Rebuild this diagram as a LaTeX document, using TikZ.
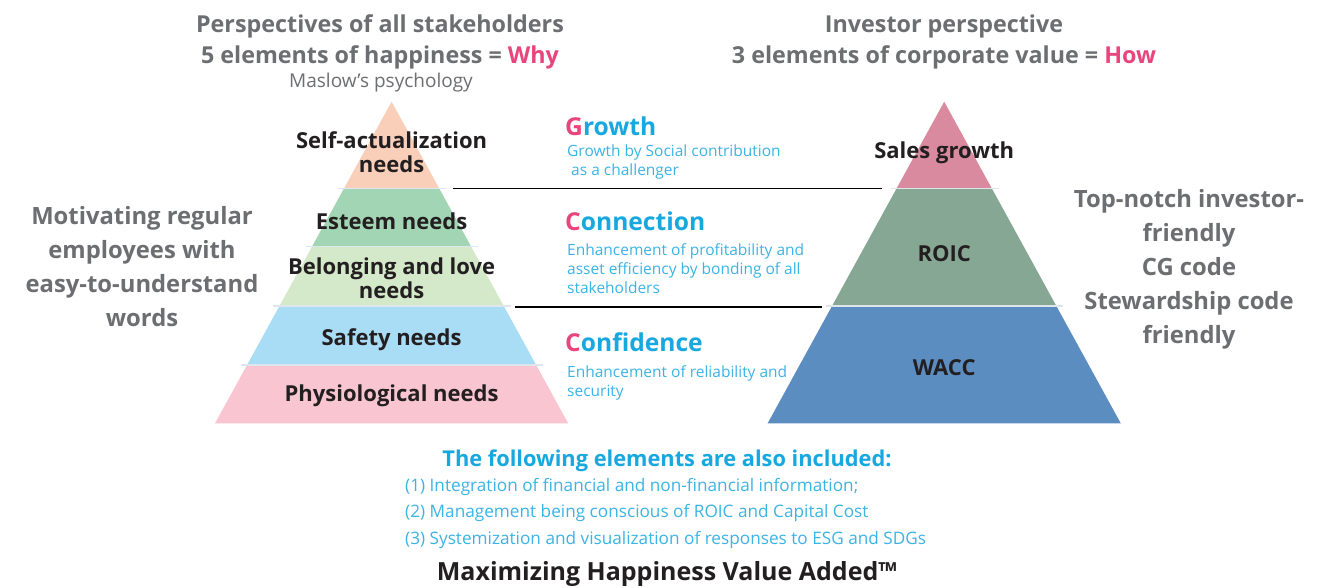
\documentclass[tikz,border=0pt]{standalone}
\usepackage{fontspec}
\setmainfont{Open Sans}
\definecolor{graytxt}{HTML}{6D6E71}
\definecolor{pinktxt}{HTML}{E8457C}
\definecolor{cyanhd}{HTML}{18A8E0}
\definecolor{cyansub}{HTML}{3BB4E5}
\definecolor{darktxt}{HTML}{231F20}
\definecolor{bself}{HTML}{F9CFB9}
\definecolor{besteem}{HTML}{A2D5B3}
\definecolor{bbelong}{HTML}{D4E9C9}
\definecolor{bsafety}{HTML}{A9DDF6}
\definecolor{bphysio}{HTML}{F8C5D0}
\definecolor{bsales}{HTML}{DA8A9F}
\definecolor{broic}{HTML}{86A793}
\definecolor{bwacc}{HTML}{5B8DC1}
\definecolor{sepline}{HTML}{DCE6EC}
\newcommand\pyrband[4]{\fill[#4] ({#1-0.549*(#2-101.7)},#2) -- ({#1+0.549*(#2-101.7)},#2) -- ({#1+0.549*(#3-101.7)},#3) -- ({#1-0.549*(#3-101.7)},#3) -- cycle;}
\newcommand\pyrsep[2]{\draw[sepline,line width=1.5pt] ({#1-0.549*(#2-101.7)-6},#2) -- ({#1+0.549*(#2-101.7)+7},#2);}
\begin{document}
\begin{tikzpicture}[x=1pt,y=-1pt,
  title/.style={text=graytxt,font=\fontsize{23.3}{25}\selectfont\bfseries,inner sep=0pt,anchor=center},
  side/.style={text=graytxt,font=\fontsize{23.8}{34}\selectfont\bfseries,inner sep=0pt,align=center},
  lvl/.style={text=darktxt,font=\fontsize{22}{24}\selectfont\bfseries,inner sep=0pt,align=center},
  cword/.style={text=cyanhd,font=\fontsize{24.6}{28}\selectfont\bfseries,inner sep=0pt,anchor=west},
  csub/.style={text=cyansub,font=\fontsize{15.5}{19}\selectfont,inner sep=0pt,anchor=north west,align=left},
  item/.style={text=cyansub,font=\fontsize{17.2}{20}\selectfont,inner sep=0pt,anchor=west},
  conn/.style={draw=black,line width=1.6pt}]
\useasboundingbox[fill=white] (0,0) rectangle (1342,587);
% left pyramid
\pyrband{391.6}{101.7}{188.3}{bself}
\pyrband{391.6}{188.3}{246.7}{besteem}
\pyrband{391.6}{246.7}{306}{bbelong}
\pyrband{391.6}{306}{365}{bsafety}
\pyrband{391.6}{365}{423.3}{bphysio}
\pyrsep{391.6}{188.3}
\pyrsep{391.6}{246.7}
\pyrsep{391.6}{306}
\pyrsep{391.6}{365}
% right pyramid
\pyrband{944.2}{101.7}{188.3}{bsales}
\pyrband{944.2}{188.3}{306}{broic}
\pyrband{944.2}{306}{423.3}{bwacc}
\pyrsep{944.2}{188.3}
\pyrsep{944.2}{306}
% titles
\node[title] (t1) at (380,26) {Perspectives of all stakeholders};
\node[title] (t2) at (380,57) {5 elements of happiness = \textcolor{pinktxt}{Why}};
\node[text=graytxt,font=\fontsize{19}{20}\selectfont,inner sep=0pt] (t3) at (381,82.5) {Maslow's psychology};
\node[title] (t4) at (944,26) {Investor perspective};
\node[title] (t5) at (944,57) {3 elements of corporate value = \textcolor{pinktxt}{How}};
% side texts
\node[side] (sl) at (142,267) {Motivating regular\\employees with\\easy-to-understand\\words};
\node[side] (sr) at (1189,269) {Top-notch investor-\\friendly\\CG code\\Stewardship code\\friendly};
% level labels
\node[lvl] (p5) at (391.6,152) {Self-actualization\\needs};
\node[lvl] (p4) at (391.6,221) {Esteem needs};
\node[lvl] (p3) at (391.6,278) {Belonging and love\\needs};
\node[lvl] (p2) at (391.6,339.5) {Safety needs};
\node[lvl] (p1) at (391.6,395.5) {Physiological needs};
\node[lvl] (q3) at (944.2,152.5) {Sales growth};
\node[lvl] (q2) at (944.2,254) {ROIC};
\node[lvl] (q1) at (944.2,368) {WACC};
% middle
\node[cword] (g) at (565,126.5) {\textcolor{pinktxt}{G}rowth};
\node[csub] (gs) at (567,145) {Growth by Social contribution\\\ as a challenger};
\node[cword] (c1) at (565,221.5) {\textcolor{pinktxt}{C}onnection};
\node[csub] (cs1) at (567,243) {Enhancement of profitability and\\asset efficiency by bonding of all\\stakeholders};
\node[cword] (c2) at (565,342.5) {\textcolor{pinktxt}{C}onfidence};
\node[csub] (cs2) at (567,365.5) {Enhancement of reliability and\\security};
% connectors
\coordinate (l1a) at (453,188.5);
\coordinate (l1b) at (882,188.5);
\coordinate (l2a) at (515,306.7);
\coordinate (l2b) at (821.7,306.7);
\draw[conn] (l1a) -- (l1b);
\draw[conn] (l2a) -- (l2b);
% bottom
\node[text=cyanhd,font=\fontsize{21.8}{24}\selectfont\bfseries,inner sep=0pt] (fh) at (667,460.5) {The following elements are also included:};
\node[item] (i1) at (405,487) {(1) Integration of financial and non-financial information;};
\node[item] (i2) at (405,513) {(2) Management being conscious of ROIC and Capital Cost};
\node[item] (i3) at (405,540) {(3) Systemization and visualization of responses to ESG and SDGs};
\node[text=darktxt,font=\fontsize{25}{27}\selectfont\bfseries,inner sep=0pt,anchor=base] (mx) at (667,580.5) {Maximizing Happiness Value Added™};
\end{tikzpicture}
\end{document}
